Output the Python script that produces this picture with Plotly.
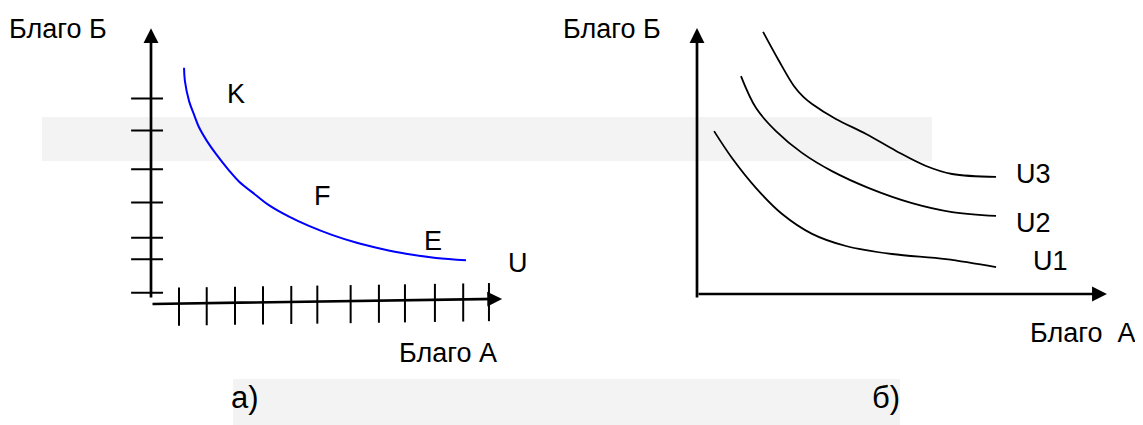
import plotly.graph_objects as go

# ---------------- Panel a) : one indifference curve with tick marks ----------------
a_curve_x = [1.18, 1.21, 1.36, 1.54, 1.71, 2.00, 2.32, 2.79, 3.14, 3.75, 4.21, 4.93,
             5.64, 6.46, 7.32, 8.25, 9.11, 10.18, 11.25]
a_curve_y = [7.38, 6.97, 6.34, 5.91, 5.53, 5.09, 4.69, 4.17, 3.83, 3.40, 3.09, 2.73,
             2.44, 2.16, 1.92, 1.72, 1.57, 1.44, 1.37]
a_xticks = [1.00, 1.99, 3.00, 4.00, 5.01, 5.94, 7.13, 8.14, 9.07, 10.14, 11.15, 12.07]
a_yticks = [0.35, 1.40, 2.07, 3.17, 4.21, 5.42, 6.42]
a_xaxis_end = (12.54, 0.16)    # slightly tilted hand-drawn axis
a_yaxis_end = 8.62
a_point_labels = ["K", "F", "E", "U"]
a_point_x = [3.04, 6.11, 10.07, 13.10]
a_point_y = [6.56, 3.38, 1.97, 1.28]

# ---------------- Panel б) : three indifference curves ----------------
u3_x = [2.36, 2.93, 3.46, 3.79, 4.11, 4.96, 6.04, 7.11, 8.18, 9.11, 10.68]
u3_y = [8.19, 7.28, 6.50, 6.17, 5.94, 5.47, 5.00, 4.47, 4.00, 3.75, 3.66]
u2_x = [1.57, 2.11, 2.82, 3.75, 4.82, 6.14, 7.68, 9.11, 10.68]
u2_y = [6.81, 5.81, 5.09, 4.41, 3.84, 3.31, 2.84, 2.56, 2.44]
u1_x = [0.61, 1.25, 2.11, 3.04, 4.11, 5.32, 6.96, 8.89, 10.68]
u1_y = [5.09, 4.25, 3.31, 2.50, 1.88, 1.50, 1.25, 1.09, 0.84]
b_curve_labels = ["U3", "U2", "U1"]
b_label_x = [12.00, 12.00, 12.64]
b_label_y = [3.75, 2.22, 1.03]
b_xaxis_end = 14.64
b_yaxis_end = 8.31

# axis captions
cap_good_b = "Благо Б"
cap_good_a_left = "Благо А"
cap_good_a_right = "Благо  А"
panel_labels = ["а)", "б)"]

FONT = "Liberation Sans, Arial, sans-serif"
BLACK = "#000000"
LABEL_SIZE = 27

fig = go.Figure()

# --- panel a ---
fig.add_trace(go.Scatter(x=a_curve_x, y=a_curve_y, mode="lines",
                         line=dict(color="#0000ff", width=2, shape="spline", smoothing=1.0),
                         xaxis="x", yaxis="y", hoverinfo="skip"))

# tick marks crossing the axes
slope = a_xaxis_end[1] / a_xaxis_end[0]
tx, ty = [], []
for v in a_xticks:
    base = slope * v
    tx += [v, v, None]
    ty += [base + 0.5, base - 0.69, None]
for v in a_yticks:
    tx += [-0.71, 0.43, None]
    ty += [v, v, None]
fig.add_trace(go.Scatter(x=tx, y=ty, mode="lines", line=dict(color=BLACK, width=2),
                         xaxis="x", yaxis="y", hoverinfo="skip"))

# --- panel b ---
for cx, cy in [(u3_x, u3_y), (u2_x, u2_y), (u1_x, u1_y)]:
    fig.add_trace(go.Scatter(x=cx, y=cy, mode="lines",
                             line=dict(color=BLACK, width=1.8, shape="spline", smoothing=1.0),
                             xaxis="x2", yaxis="y2", hoverinfo="skip"))

annotations = []


def arrow(xref, yref, x0, y0, x1, y1):
    annotations.append(dict(x=x1, y=y1, ax=x0, ay=y0, xref=xref, yref=yref,
                            axref=xref, ayref=yref, text="", showarrow=True,
                            arrowhead=2, arrowsize=1.1, arrowwidth=2.7,
                            arrowcolor=BLACK, standoff=0, startstandoff=0))


def label(xref, yref, x, y, txt, size, xanchor="center"):
    annotations.append(dict(x=x, y=y, xref=xref, yref=yref, text=txt, showarrow=False,
                            font=dict(family=FONT, size=size, color=BLACK),
                            xanchor=xanchor, yanchor="middle"))


# axes with arrows
arrow("x", "y", 0, 0.16, 0, a_yaxis_end)
arrow("x", "y", 0, 0, a_xaxis_end[0], a_xaxis_end[1])
arrow("x2", "y2", 0, -0.16, 0, b_yaxis_end)
arrow("x2", "y2", 0, 0, b_xaxis_end, 0)

# labels, panel a
for t, x, y in zip(a_point_labels, a_point_x, a_point_y):
    label("x", "y", x, y, t, LABEL_SIZE)
label("x", "y", -3.32, 8.59, cap_good_b, LABEL_SIZE)
label("x", "y", 10.61, -1.53, cap_good_a_left, LABEL_SIZE)
label("x", "y", 3.36, -2.91, panel_labels[0], 31)

# labels, panel b
for t, x, y in zip(b_curve_labels, b_label_x, b_label_y):
    label("x2", "y2", x, y, t, LABEL_SIZE)
label("x2", "y2", -3.04, 8.28, cap_good_b, LABEL_SIZE)
label("x2", "y2", 15.70, -1.22, cap_good_a_right, LABEL_SIZE, xanchor="right")
label("x2", "y2", 6.75, -3.22, panel_labels[1], 31)

# light grey background strips from the scanned page
W, H = 1143, 425
shapes = [
    dict(type="rect", xref="paper", yref="paper", x0=34 / W, x1=924 / W,
         y0=1 - 153 / H, y1=1 - 109 / H, fillcolor="#f3f3f3", line=dict(width=0),
         layer="below"),
    dict(type="rect", xref="paper", yref="paper", x0=225 / W, x1=892 / W,
         y0=0, y1=1 - 371 / H, fillcolor="#f3f3f3", line=dict(width=0),
         layer="below"),
]

hidden = dict(visible=False, showgrid=False, zeroline=False, fixedrange=True)
fig.update_layout(
    width=W, height=H,
    margin=dict(l=0, r=0, t=0, b=0),
    paper_bgcolor="white", plot_bgcolor="rgba(0,0,0,0)",
    showlegend=False,
    xaxis=dict(domain=[0, 0.5], range=[-5.1071, 15.3036], **hidden),
    yaxis=dict(domain=[0, 1], range=[-4.03125, 9.25], **hidden),
    xaxis2=dict(domain=[0.5, 1], range=[-4.1964, 16.2143], anchor="y2", **hidden),
    yaxis2=dict(domain=[0, 1], range=[-4.34375, 8.9375], anchor="x2", **hidden),
    annotations=annotations,
    shapes=shapes,
)

fig.write_html("out.html")
